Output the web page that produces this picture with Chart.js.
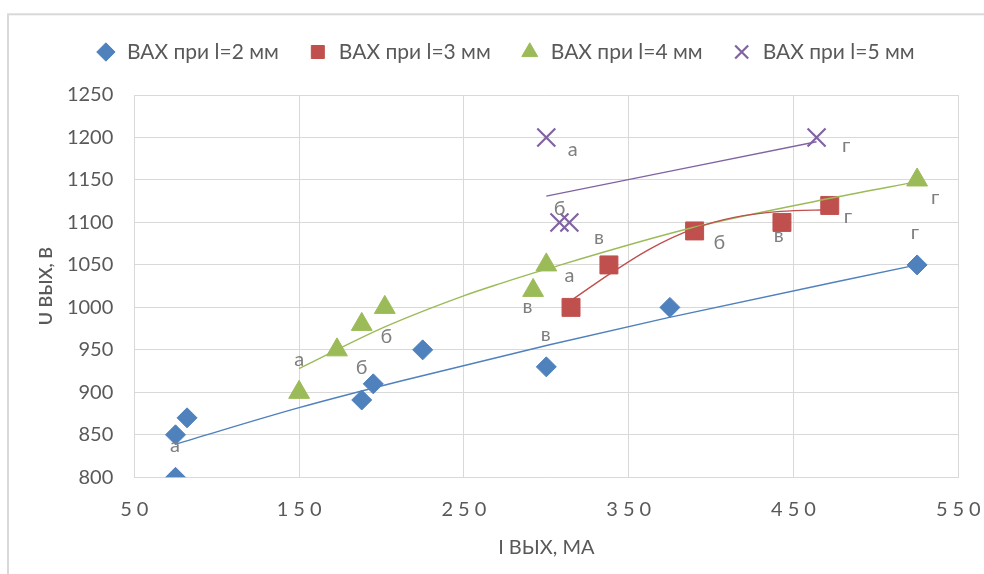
<!DOCTYPE html>
<html>
<head>
<meta charset="utf-8">
<script src="https://cdn.jsdelivr.net/npm/chart.js@4/dist/chart.umd.min.js"></script>
<style>
  html, body { margin: 0; padding: 0; background: #ffffff; }
  #wrap { width: 984px; height: 574px; }
</style>
</head>
<body>
<div id="wrap"><canvas id="c" width="984" height="574"></canvas></div>
<script>
// ---------- data ----------
const seriesNames = ['ВАХ при l=2 мм', 'ВАХ при l=3 мм', 'ВАХ при l=4 мм', 'ВАХ при l=5 мм'];

const l2X = [75, 75, 82, 188, 195, 225, 300, 375, 525];
const l2Y = [850, 800, 870, 891, 910, 950, 930, 1000, 1050];

const l3X = [315, 338, 390, 443, 472];
const l3Y = [1000, 1050, 1090, 1100, 1120];

const l4X = [150, 173, 188, 202, 292, 300, 525];
const l4Y = [900, 950, 980, 1000, 1020, 1050, 1150];

const l5X = [300, 308, 314, 464];
const l5Y = [1200, 1100, 1100, 1200];

// trend lines
const t2X = [75, 150, 213, 302, 374, 525];
const t2Y = [839, 882, 914, 956, 988, 1050];
const t3X = [315, 339, 363, 390, 414, 442, 472];
const t3Y = [1008, 1040, 1069, 1093, 1106, 1113, 1115];
const t4X = [150, 202, 249, 272, 300, 389, 474, 525];
const t4Y = [928, 977, 1013, 1028, 1045, 1094, 1129, 1148];
const t5X = [300, 464];
const t5Y = [1131, 1195];

// point letters
const letters = ['а', 'б', 'в', 'г'];
const lab2X = [74.7, 188, 299.6, 523.7];
const lab2Y = [836, 930, 966, 1086];
const lab3X = [314, 405, 441, 483];
const lab3Y = [1036, 1077, 1083, 1105];
const lab4X = [150, 203, 288.5, 536];
const lab4Y = [937, 966, 999, 1127];
const lab5X = [316, 308, 332, 482];
const lab5Y = [1184, 1117, 1080, 1189];

const xMin = 50, xMax = 550, xStep = 100;
const yMin = 800, yMax = 1250, yStep = 50;
const xTitle = 'I ВЫХ, МА';
const yTitle = 'U ВЫХ, В';

// ---------- helpers ----------
const pts = (xs, ys) => xs.map((v, i) => ({x: v, y: ys[i]}));
const FONT = 'Lato, "Noto Sans", sans-serif';
const C_BLUE = '#4f81bd', C_RED = '#c0504d', C_GREEN = '#9bbb59', C_PURPLE = '#8064a2';

function makeSpacer(position, size, weight) {
  return {
    position, weight, fullSize: false, options: {},
    top: 0, left: 0, right: 0, bottom: 0, width: 0, height: 0,
    isHorizontal() { return position === 'top' || position === 'bottom'; },
    update(maxWidth, maxHeight) {
      if (this.isHorizontal()) { this.width = maxWidth; this.height = size; }
      else { this.width = size; this.height = maxHeight; }
    },
    getPadding() { return {top: 0, left: 0, right: 0, bottom: 0}; },
    draw() {}
  };
}

const spacerPlugin = {
  id: 'spacers',
  beforeInit(chart) {
    Chart.layouts.addBox(chart, makeSpacer('top', 22.5, 500));
    Chart.layouts.addBox(chart, makeSpacer('right', 25.7, 0));
  }
};

const framePlugin = {
  id: 'frame',
  beforeDraw(chart) {
    const ctx = chart.ctx;
    ctx.save();
    ctx.fillStyle = '#ffffff';
    ctx.fillRect(0, 0, chart.width, chart.height);
    ctx.strokeStyle = '#d9d9d9';
    ctx.lineWidth = 2;
    ctx.strokeRect(8, 14.3, chart.width + 20, chart.height + 20);
    ctx.restore();
    const sx = chart.scales.x;
    if (sx && !sx._spaced) {
      const orig = sx.drawLabels;
      sx.drawLabels = function (area) {
        const c = this.ctx;
        c.save();
        c.letterSpacing = '5px';
        c.translate(2.5, 0);
        orig.call(this, area);
        c.restore();
      };
      sx._spaced = true;
    }
  }
};

const letterPlugin = {
  id: 'pointLetters',
  afterDatasetsDraw(chart) {
    const {ctx, scales: {x, y}} = chart;
    const groups = [[lab2X, lab2Y], [lab3X, lab3Y], [lab4X, lab4Y], [lab5X, lab5Y]];
    ctx.save();
    ctx.font = '20px ' + FONT;
    ctx.fillStyle = '#7f7f7f';
    ctx.textAlign = 'center';
    ctx.textBaseline = 'alphabetic';
    groups.forEach(([gx, gy]) => {
      gx.forEach((xv, i) => {
        const t = letters[i];
        const off = t === 'б' ? 7 : 5;
        ctx.fillText(t, x.getPixelForValue(xv), y.getPixelForValue(gy[i]) + off);
      });
    });
    ctx.restore();
  }
};

function markerSet(label, xs, ys, color, style, radius, bw) {
  return {
    type: 'scatter', label, data: pts(xs, ys),
    pointStyle: style, pointRadius: radius, pointHoverRadius: radius,
    backgroundColor: color, borderColor: color, borderWidth: bw,
    pointBorderWidth: bw, showLine: false, order: 2
  };
}
function trendSet(xs, ys, color) {
  return {
    type: 'line', label: '', data: pts(xs, ys),
    borderColor: color, backgroundColor: color, borderWidth: 1.4,
    pointRadius: 0, pointHoverRadius: 0, showLine: true, fill: false,
    cubicInterpolationMode: 'monotone', order: 1
  };
}

new Chart(document.getElementById('c'), {
  type: 'scatter',
  data: {
    datasets: [
      markerSet(seriesNames[0], l2X, l2Y, C_BLUE, 'rectRot', 10, 1),
      markerSet(seriesNames[1], l3X, l3Y, C_RED, 'rect', 12.7, 1),
      markerSet(seriesNames[2], l4X, l4Y, C_GREEN, 'triangle', 12, 1),
      markerSet(seriesNames[3], l5X, l5Y, C_PURPLE, 'crossRot', 12.7, 2.2),
      trendSet(t2X, t2Y, C_BLUE),
      trendSet(t3X, t3Y, C_RED),
      trendSet(t4X, t4Y, C_GREEN),
      trendSet(t5X, t5Y, C_PURPLE)
    ]
  },
  options: {
    responsive: false,
    animation: false,
    events: [],
    layout: { padding: {top: 13, left: 26, right: 0, bottom: 0} },
    plugins: {
      tooltip: { enabled: false },
      legend: {
        position: 'top',
        labels: {
          usePointStyle: true,
          boxHeight: 13,
          padding: 28.5,
          color: '#595959',
          font: { family: FONT, size: 21 },
          filter: (item) => item.datasetIndex < 4
        }
      }
    },
    scales: {
      x: {
        type: 'linear', min: xMin, max: xMax,
        afterFit: (s) => { s.height = 96.7; s.paddingLeft = 0; s.paddingRight = 0; },
        ticks: { stepSize: xStep, color: '#595959', padding: 20, font: { family: FONT, size: 20 },
                 callback: (v) => String(v) },
        grid: { color: '#d9d9d9', lineWidth: 1, drawTicks: false },
        border: { color: '#d9d9d9' },
        title: { display: true, text: xTitle, color: '#595959', font: { family: FONT, size: 20 }, padding: {top: 0, bottom: 14} }
      },
      y: {
        type: 'linear', min: yMin, max: yMax,
        afterFit: (s) => { s.width = 108.3; },
        ticks: { stepSize: yStep, color: '#595959', padding: 21, font: { family: FONT, size: 20 },
                 callback: (v) => String(v) },
        grid: { color: '#d9d9d9', lineWidth: 1, drawTicks: false },
        border: { color: '#d9d9d9' },
        title: { display: true, text: yTitle, color: '#595959', font: { family: FONT, size: 18, weight: '600' }, padding: {top: 9, bottom: 0} }
      }
    }
  },
  plugins: [spacerPlugin, framePlugin, letterPlugin]
});
</script>
</body>
</html>
